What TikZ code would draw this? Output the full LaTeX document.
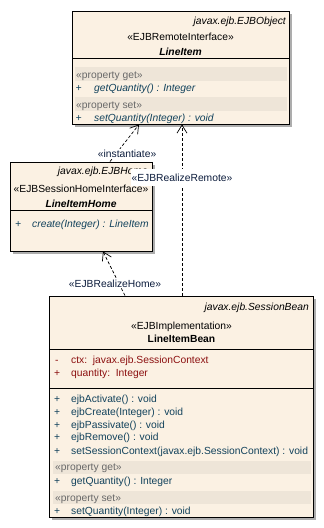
\documentclass[tikz,border=0pt]{standalone}
\usepackage{fontspec}
\setmainfont{Liberation Sans}
\usetikzlibrary{arrows.meta,shadows}

\definecolor{clsfill}{RGB}{251,241,227}
\definecolor{bandfill}{RGB}{238,229,216}
\definecolor{opcol}{RGB}{18,66,92}
\definecolor{attcol}{RGB}{140,16,16}
\definecolor{stereocol}{RGB}{105,105,105}
\definecolor{linkcol}{RGB}{12,28,60}
\newcommand{\cf}{\fontsize{10.3}{12}\selectfont}

\begin{document}
\begin{tikzpicture}[x=1pt, y=-1pt,
    cls/.style={draw, rectangle, line width=0.9pt, fill=clsfill,
      drop shadow={shadow xshift=3pt, shadow yshift=-3pt,
        fill=black!32, opacity=1}},
    band/.style={fill=bandfill},
    sep/.style={line width=0.9pt},
    txt/.style={anchor=base west, inner sep=0pt, font=\cf},
    ttl/.style={anchor=base, inner sep=0pt, font=\cf},
    pkg/.style={anchor=base east, inner sep=0pt, font=\cf\itshape},
    prop/.style={txt, text=stereocol},
    opi/.style={txt, font=\cf\itshape, text=opcol},
    op/.style={txt, text=opcol},
    att/.style={txt, text=attcol},
    lbl/.style={fill=white, inner sep=1pt, text=linkcol, font=\cf},
    dep/.style={line width=0.7pt, dash pattern=on 3pt off 2pt,
      -{Straight Barb[length=8pt, width=10pt]}}
]
\useasboundingbox (0,0) rectangle (324,528);

% class boxes
\node[cls, minimum width=217pt, minimum height=113pt] (item) at (180.5,67.5) {};
\node[cls, minimum width=142pt, minimum height=89pt]  (home) at (81,206.5) {};
\node[cls, minimum width=264pt, minimum height=221pt] (bean) at (181,406.5) {};

% LineItem
\draw[sep] (72,58) -- (289,58);
\fill[band] (75,67) rectangle (287,80.5);
\fill[band] (75,97) rectangle (287,110.5);
\node[pkg] (itemPkg) at (286,24) {javax.ejb.EJBObject};
\node[ttl] (itemSt) at (180.5,40) {«EJBRemoteInterface»};
\node[ttl, font=\cf\bfseries\itshape] (itemName) at (180.5,55) {LineItem};
\node[prop] (itemGet) at (76,78) {«property get»};
\node[opi] at (75.5,91.5) {+};
\node[opi] (itemGetQ) at (94,91.5) {getQuantity() : Integer};
\node[prop] (itemSet) at (76,108.5) {«property set»};
\node[opi] at (75.5,121.5) {+};
\node[opi] (itemSetQ) at (94,121.5) {setQuantity(Integer) : void};

% LineItemHome
\draw[sep] (10,210) -- (152,210);
\node[pkg] (homePkg) at (148,174) {javax.ejb.EJBHome};
\node[ttl] (homeSt) at (81,192) {«EJBSessionHomeInterface»};
\node[ttl, font=\cf\bfseries\itshape] (homeName) at (81,207) {LineItemHome};
\node[opi] at (15,227) {+};
\node[opi] (homeCreate) at (32,227) {create(Integer) : LineItem};

% LineItemBean
\draw[sep] (49,349) -- (313,349);
\draw[sep] (49,388) -- (313,388);
\fill[band] (53,461) rectangle (311,473.5);
\fill[band] (53,491) rectangle (311,503.5);
\node[pkg] (beanPkg) at (309,310) {javax.ejb.SessionBean};
\node[ttl] (beanSt) at (181.5,329) {«EJBImplementation»};
\node[ttl, font=\cf\bfseries] (beanName) at (181.5,342) {LineItemBean};
\node[att] at (55,363.5) {-};
\node[att] (beanCtx) at (71,363.5) {ctx:\ \ javax.ejb.SessionContext};
\node[att] at (54,376.5) {+};
\node[att] (beanQty) at (71,376.5) {quantity:\ \ Integer};
\node[op] at (54,402.5) {+};
\node[op] at (71,402.5) {ejbActivate() : void};
\node[op] at (54,415) {+};
\node[op] at (71,415) {ejbCreate(Integer) : void};
\node[op] at (54,428) {+};
\node[op] at (71,428) {ejbPassivate() : void};
\node[op] at (54,440.5) {+};
\node[op] at (71,440.5) {ejbRemove() : void};
\node[op] at (54,454) {+};
\node[op] at (71,454) {setSessionContext(javax.ejb.SessionContext) : void};
\node[prop] (beanGet) at (55,470.5) {«property get»};
\node[op] at (54,484.5) {+};
\node[op] at (71,484.5) {getQuantity() : Integer};
\node[prop] (beanSet) at (55,501) {«property set»};
\node[op] at (54,514) {+};
\node[op] at (71,514) {setQuantity(Integer) : void};

% dependencies
\draw[dep] ([xshift=29pt]home.north) -- node[lbl, pos=0.21, xshift=11pt] {«instantiate»}
  ([xshift=-41.5pt]item.south);
\draw[dep] ([xshift=1pt]bean.north) -- node[lbl, pos=0.69, inner ysep=4.5pt] {«EJBRealizeRemote»}
  ([xshift=1.5pt]item.south);
\draw[dep] ([xshift=-56pt]bean.north) -- node[lbl, pos=0.27, xshift=-4pt] {«EJBRealizeHome»}
  ([xshift=22pt]home.south);
\end{tikzpicture}
\end{document}
